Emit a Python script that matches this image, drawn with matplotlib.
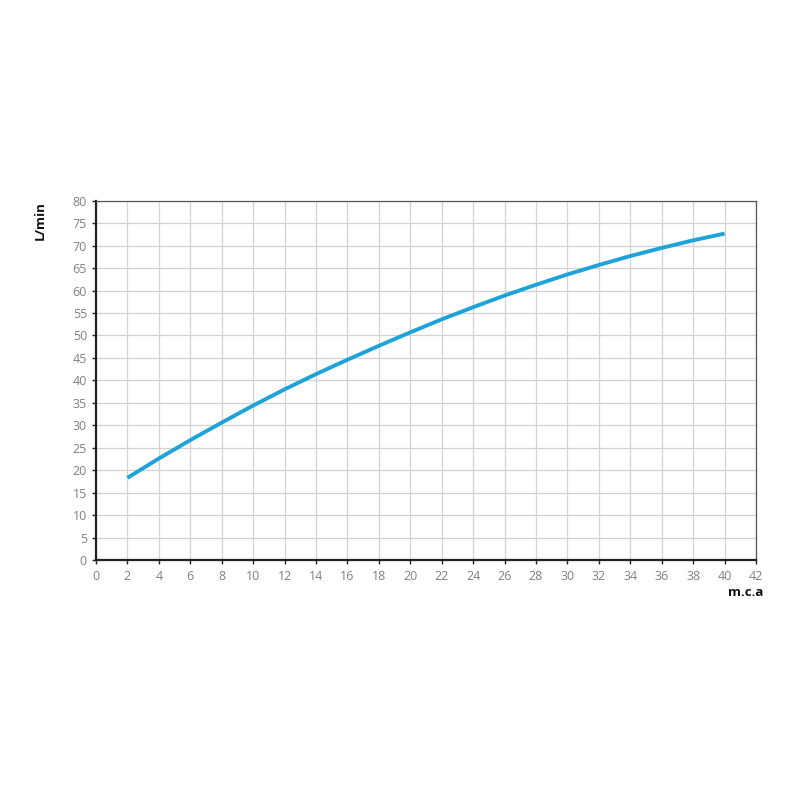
import matplotlib.pyplot as plt
import numpy as np

# pump curve: head (m.c.a) vs flow (L/min)
head = [2, 4, 6, 8, 10, 12, 14, 16, 18, 20, 22, 24, 26, 28, 30, 32, 34, 36, 38, 40]
flow = [18.3, 22.6, 26.7, 30.6, 34.4, 38.0, 41.4, 44.6, 47.7, 50.7,
        53.6, 56.3, 58.9, 61.3, 63.6, 65.7, 67.7, 69.5, 71.2, 72.7]

xticks = list(range(0, 43, 2))
yticks = list(range(0, 81, 5))

plt.rcParams['font.family'] = ['Open Sans', 'DejaVu Sans']

fig = plt.figure(figsize=[8, 8], dpi=100)
ax = fig.add_axes([0.12, 0.30, 0.825, 0.449])

ax.plot(head, flow, color="#1ea3d8", lw=2.8, solid_capstyle="butt",
        solid_joinstyle="round")

ax.set_xlim(0, 42)
ax.set_ylim(0, 80)
ax.set_xticks(xticks)
ax.set_yticks(yticks)
ax.grid(True, color="#d2d2d2", lw=0.9)
ax.set_axisbelow(True)

for s in ["top", "right"]:
    ax.spines[s].set_color("#555555")
    ax.spines[s].set_linewidth(0.9)
for s in ["left", "bottom"]:
    ax.spines[s].set_color("#222222")
    ax.spines[s].set_linewidth(1.6)

ax.tick_params(axis="both", colors="#222222", labelcolor="#808080",
               labelsize=9, length=3, width=1)
ax.tick_params(axis="x", pad=4)

ax.text(-0.085, 1.0, "L/min", transform=ax.transAxes, rotation=90,
        ha="center", va="top", fontsize=9.5, fontweight="bold", color="#111111")
ax.text(0.985, -0.09, "m.c.a", transform=ax.transAxes,
        ha="center", va="center", fontsize=9.5, fontweight="bold", color="#111111")

fig.savefig("out.png", dpi=100)
